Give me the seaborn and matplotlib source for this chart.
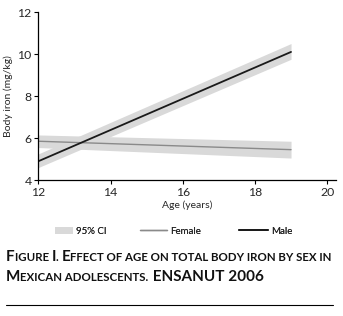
import matplotlib
matplotlib.use("Agg")
import matplotlib.pyplot as plt
import seaborn as sns
import pandas as pd
from matplotlib.patches import Patch
from matplotlib.lines import Line2D

ages = [12, 19]
male_mean = [4.9, 10.1]
male_lo = [4.6, 9.75]
male_hi = [5.25, 10.5]
female_mean = [5.85, 5.45]
female_lo = [5.55, 5.05]
female_hi = [6.15, 5.85]
x_ticks = [12, 14, 16, 18, 20]
y_ticks = [4, 6, 8, 10, 12]

sns.set_style("white")
plt.rcParams['font.family'] = ['Lato', 'DejaVu Sans']

fig = plt.figure(figsize=(3.43, 3.16), dpi=100)
ax = fig.add_axes([0.112, 0.430, 0.868, 0.532])

ci_color = "#d9d9d9"
ax.fill_between(ages, male_lo, male_hi, color=ci_color, lw=0)
ax.fill_between(ages, female_lo, female_hi, color=ci_color, lw=0)

df = pd.DataFrame({
    "age": ages + ages,
    "iron": female_mean + male_mean,
    "sex": ["Female"] * 2 + ["Male"] * 2,
})
sns.lineplot(data=df, x="age", y="iron", hue="sex",
             palette={"Female": "#8a8a8a", "Male": "#1a1a1a"},
             ax=ax, legend=False, lw=1.3)
for l in ax.get_lines():
    if l.get_color() == "#8a8a8a":
        l.set_linewidth(1.0)

ax.set_xlim(12, 20.25)
ax.set_ylim(4, 12)
ax.set_xticks(x_ticks)
ax.set_yticks(y_ticks)
for s in ["top", "right"]:
    ax.spines[s].set_visible(False)
for s in ["left", "bottom"]:
    ax.spines[s].set_color("black")
    ax.spines[s].set_linewidth(0.9)
ax.tick_params(axis="both", direction="out", length=3, width=0.8, color="black",
               labelsize=8.8, pad=2, bottom=True, left=True)
ax.set_xlabel("Age (years)", fontsize=7.5, labelpad=2)
ax.set_ylabel("Body iron (mg/kg)", fontsize=7.5, labelpad=3)

# legend: three single-item legends placed along a row
leg_y = 1 - 231 / 316
items = [
    (Patch(facecolor=ci_color, edgecolor="none"), "95% CI", 55, 1.85),
    (Line2D([], [], color="#8a8a8a", lw=1.0), "Female", 140, 2.8),
    (Line2D([], [], color="#1a1a1a", lw=1.3), "Male", 239, 3.0),
]
for h, lab, xpx, hl in items:
    lg = fig.legend([h], [lab], loc="center left",
                    bbox_to_anchor=(xpx / 343, leg_y), frameon=False,
                    fontsize=7, handlelength=hl, handletextpad=0.3,
                    handleheight=0.75, borderpad=0, borderaxespad=0)
    fig.add_artist(lg)

# caption in small caps
def smallcaps(pieces, x, y, big=11, small=8.3, color="#111111"):
    renderer = fig.canvas.get_renderer()
    cx = x * fig.bbox.width
    for txt, is_big in pieces:
        t = fig.text(cx / fig.bbox.width, y, txt, fontsize=big if is_big else small,
                     fontweight="bold", color=color, va="baseline", ha="left")
        bb = t.get_window_extent(renderer)
        cx = bb.x1

def sc(text):
    pieces = []
    for word in text.split(" "):
        if pieces:
            pieces.append((" ", False))
        for ch in word:
            big = ch.isupper() or ch.isdigit()
            pieces.append((ch.upper(), big))
    merged = []
    for t, b in pieces:
        if merged and merged[-1][1] == b:
            merged[-1] = (merged[-1][0] + t, b)
        else:
            merged.append((t, b))
    return merged

line1 = sc("Figure I. Effect of age on total body iron by sex in")
line2 = sc("Mexican adolescents.") + [(" ENSANUT 2006", True)]
smallcaps(line1, 6 / 343, 1 - 261 / 316)
smallcaps(line2, 6 / 343, 1 - 281 / 316)

fig.add_artist(Line2D([6 / 343, 333 / 343], [1 - 305 / 316] * 2,
                      transform=fig.transFigure, color="black", lw=0.8))

fig.savefig("out.png", dpi=100)
